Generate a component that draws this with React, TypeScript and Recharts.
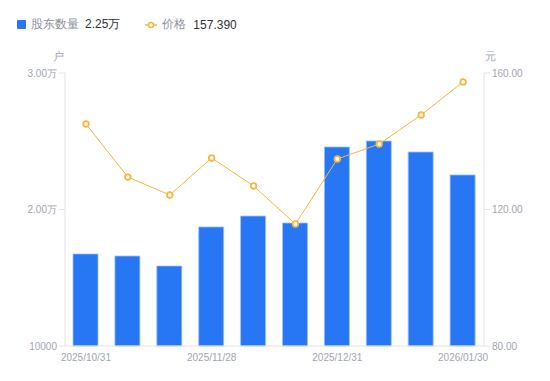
import React from 'react';
import { ComposedChart, Bar, Line, XAxis, YAxis } from 'recharts';

const dates = ['2025/10/31', '2025/11/10', '2025/11/20', '2025/11/28', '2025/12/10', '2025/12/19', '2025/12/31', '2026/01/09', '2026/01/20', '2026/01/30'];
const holders = [16740, 16590, 15860, 18720, 19520, 19010, 24580, 25020, 24210, 22530];
const prices = [145.05, 129.5, 124.25, 135.1, 126.9, 115.75, 134.8, 139.2, 147.7, 157.39];
const leftTicks = [10000, 20000, 30000];
const rightTicks = [80, 120, 160];

const data = dates.map((d, i) => ({ date: d, holders: holders[i], price: prices[i] }));

const AXIS = '#e3e4e8';
const TICK = '#a2a5b3';
const BLUE = '#2777f5';
const ORANGE = '#f8b63e';
const FONT = '"Liberation Sans", Arial, sans-serif';

const fmtLeft = (v: number) => (v >= 20000 ? (v / 10000).toFixed(2) + '万' : String(v));

export default function App() {
  return (
    <div style={{ position: 'absolute', left: 0, top: 0, width: 550, height: 381, background: '#fff', fontFamily: FONT }}>
      <div style={{ position: 'absolute', left: 17, top: 16, display: 'flex', alignItems: 'center', fontSize: 12, whiteSpace: 'nowrap' }}>
        <span style={{ width: 9, height: 9, background: BLUE, borderRadius: 1, display: 'inline-block' }} />
        <span style={{ color: '#8e919d', marginLeft: 5 }}>股东数量</span>
        <span style={{ color: '#333', marginLeft: 6 }}>2.25万</span>
        <svg width={12} height={8} style={{ marginLeft: 25 }}>
          <line x1={0} y1={4} x2={12} y2={4} stroke={ORANGE} strokeWidth={1.5} />
          <circle cx={6} cy={4} r={2.5} fill="#fff" stroke={ORANGE} strokeWidth={1.5} />
        </svg>
        <span style={{ color: '#8e919d', marginLeft: 5 }}>价格</span>
        <span style={{ color: '#333', marginLeft: 7 }}>157.390</span>
      </div>
      <div style={{ position: 'absolute', left: 53, top: 49, fontSize: 11, color: TICK }}>户</div>
      <div style={{ position: 'absolute', left: 485, top: 49, fontSize: 11, color: TICK }}>元</div>
      <ComposedChart width={550} height={381} data={data} margin={{ top: 73, right: 6, left: 8, bottom: 15 }}>
        <XAxis
          dataKey="date"
          interval={2}
          tickLine={false}
          axisLine={{ stroke: AXIS }}
          tick={{ fill: TICK, fontSize: 10, fontFamily: FONT }}
          height={20}
        />
        <YAxis
          yAxisId="left"
          domain={[10000, 30000]}
          ticks={leftTicks}
          tickFormatter={fmtLeft}
          axisLine={{ stroke: AXIS }}
          tickLine={{ stroke: AXIS }}
          tick={{ fill: TICK, fontSize: 10, fontFamily: FONT }}
          width={57}
        />
        <YAxis
          yAxisId="right"
          orientation="right"
          domain={[80, 160]}
          ticks={rightTicks}
          tickFormatter={(v: number) => v.toFixed(2)}
          axisLine={{ stroke: AXIS }}
          tickLine={{ stroke: AXIS }}
          tick={{ fill: TICK, fontSize: 10, fontFamily: FONT }}
          width={60}
        />
        <Bar yAxisId="left" dataKey="holders" fill={BLUE} stroke="#9dc0f9" strokeWidth={0.8} barSize={25} isAnimationActive={false} />
        <Line
          yAxisId="right"
          dataKey="price"
          stroke={ORANGE}
          strokeWidth={1}
          dot={{ r: 2.8, fill: '#fff', stroke: ORANGE, strokeWidth: 1.8 }}
          isAnimationActive={false}
        />
      </ComposedChart>
    </div>
  );
}
